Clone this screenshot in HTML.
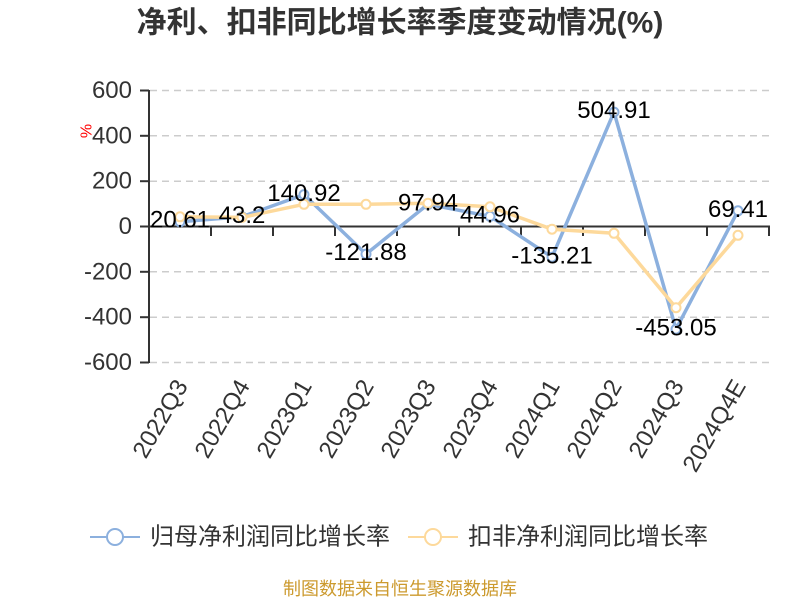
<!DOCTYPE html>
<html>
<head>
<meta charset="utf-8">
<style>
  html, body { margin: 0; padding: 0; background: #ffffff; }
  body { width: 800px; height: 600px; overflow: hidden; }
  svg { display: block; font-family: "Liberation Sans", "Noto Sans CJK SC", sans-serif; }
</style>
</head>
<body>
<svg width="800" height="600" viewBox="0 0 800 600" xmlns="http://www.w3.org/2000/svg">
  <rect width="800" height="600" fill="#ffffff"/>

  <!-- Title -->
  <text x="400" y="23" text-anchor="middle" dominant-baseline="central" font-size="30" font-weight="bold" fill="#333333">净利、扣非同比增长率季度变动情况(%)</text>

  <!-- Grid lines (dashed) -->
  <g stroke="#cccccc" stroke-width="1.5" stroke-dasharray="7,5">
    <line x1="150" y1="90.5" x2="769" y2="90.5"/>
    <line x1="150" y1="135.8" x2="769" y2="135.8"/>
    <line x1="150" y1="181.2" x2="769" y2="181.2"/>
    <line x1="150" y1="271.8" x2="769" y2="271.8"/>
    <line x1="150" y1="317.2" x2="769" y2="317.2"/>
    <line x1="150" y1="362.5" x2="769" y2="362.5"/>
  </g>

  <!-- Y axis -->
  <g stroke="#333333" stroke-width="2">
    <line x1="149" y1="90" x2="149" y2="363"/>
    <line x1="140" y1="90.5" x2="149" y2="90.5"/>
    <line x1="140" y1="135.8" x2="149" y2="135.8"/>
    <line x1="140" y1="181.2" x2="149" y2="181.2"/>
    <line x1="140" y1="226.5" x2="149" y2="226.5"/>
    <line x1="140" y1="271.8" x2="149" y2="271.8"/>
    <line x1="140" y1="317.2" x2="149" y2="317.2"/>
    <line x1="140" y1="362.5" x2="149" y2="362.5"/>
  </g>
  <g font-size="24" fill="#333333" text-anchor="end" dominant-baseline="central">
    <text x="132" y="90.5">600</text>
    <text x="132" y="135.8">400</text>
    <text x="132" y="181.2">200</text>
    <text x="132" y="226.5">0</text>
    <text x="132" y="271.8">-200</text>
    <text x="132" y="317.2">-400</text>
    <text x="132" y="362.5">-600</text>
  </g>
  <text x="87" y="131" font-size="16" fill="#ff0000" text-anchor="middle" dominant-baseline="central" transform="rotate(-90 87 131)">%</text>

  <!-- X axis -->
  <g stroke="#333333" stroke-width="2">
    <line x1="149" y1="226.5" x2="770" y2="226.5"/>
    <line x1="149" y1="226.5" x2="149" y2="236"/>
    <line x1="211" y1="226.5" x2="211" y2="236"/>
    <line x1="273" y1="226.5" x2="273" y2="236"/>
    <line x1="335" y1="226.5" x2="335" y2="236"/>
    <line x1="397" y1="226.5" x2="397" y2="236"/>
    <line x1="459" y1="226.5" x2="459" y2="236"/>
    <line x1="521" y1="226.5" x2="521" y2="236"/>
    <line x1="583" y1="226.5" x2="583" y2="236"/>
    <line x1="645" y1="226.5" x2="645" y2="236"/>
    <line x1="707" y1="226.5" x2="707" y2="236"/>
    <line x1="769" y1="226.5" x2="769" y2="236"/>
  </g>

  <!-- X labels -->
  <g font-size="24" fill="#333333" text-anchor="end" dominant-baseline="central">
    <text x="182" y="382" transform="rotate(-60 182 382)">2022Q3</text>
    <text x="244" y="382" transform="rotate(-60 244 382)">2022Q4</text>
    <text x="306" y="382" transform="rotate(-60 306 382)">2023Q1</text>
    <text x="368" y="382" transform="rotate(-60 368 382)">2023Q2</text>
    <text x="430" y="382" transform="rotate(-60 430 382)">2023Q3</text>
    <text x="492" y="382" transform="rotate(-60 492 382)">2023Q4</text>
    <text x="554" y="382" transform="rotate(-60 554 382)">2024Q1</text>
    <text x="616" y="382" transform="rotate(-60 616 382)">2024Q2</text>
    <text x="678" y="382" transform="rotate(-60 678 382)">2024Q3</text>
    <text x="740" y="382" transform="rotate(-60 740 382)">2024Q4E</text>
  </g>

  <!-- Blue series -->
  <polyline fill="none" stroke="#8cb0de" stroke-width="3.5" stroke-linejoin="round"
    points="180,221.8 242,216.7 304,194.6 366,254.1 428,204.3 490,216.3 552,257.2 614,112.1 676,329.2 738,210.8"/>
  <g fill="#ffffff" stroke="#8cb0de" stroke-width="2">
    <circle cx="180" cy="221.8" r="4.5"/>
    <circle cx="242" cy="216.7" r="4.5"/>
    <circle cx="304" cy="194.6" r="4.5"/>
    <circle cx="366" cy="254.1" r="4.5"/>
    <circle cx="428" cy="204.3" r="4.5"/>
    <circle cx="490" cy="216.3" r="4.5"/>
    <circle cx="552" cy="257.2" r="4.5"/>
    <circle cx="614" cy="112.1" r="4.5"/>
    <circle cx="676" cy="329.2" r="4.5"/>
    <circle cx="738" cy="210.8" r="4.5"/>
  </g>

  <!-- Yellow series -->
  <polyline fill="none" stroke="#fdd99b" stroke-width="3.5" stroke-linejoin="round"
    points="180,216.8 242,217.4 304,204.3 366,204.3 428,203.2 490,206.8 552,229.2 614,233.3 676,307.7 738,235.3"/>
  <g fill="#ffffff" stroke="#fdd99b" stroke-width="2">
    <circle cx="180" cy="216.8" r="4.5"/>
    <circle cx="242" cy="217.4" r="4.5"/>
    <circle cx="304" cy="204.3" r="4.5"/>
    <circle cx="366" cy="204.3" r="4.5"/>
    <circle cx="428" cy="203.2" r="4.5"/>
    <circle cx="490" cy="206.8" r="4.5"/>
    <circle cx="552" cy="229.2" r="4.5"/>
    <circle cx="614" cy="233.3" r="4.5"/>
    <circle cx="676" cy="307.7" r="4.5"/>
    <circle cx="738" cy="235.3" r="4.5"/>
  </g>

  <!-- Value labels -->
  <g font-size="24" fill="#000000" text-anchor="middle">
    <text x="180" y="227.5">20.61</text>
    <text x="242" y="223">43.2</text>
    <text x="304" y="201">140.92</text>
    <text x="366" y="260">-121.88</text>
    <text x="428" y="210.5">97.94</text>
    <text x="490" y="222.5">44.96</text>
    <text x="552" y="263.5">-135.21</text>
    <text x="614" y="118">504.91</text>
    <text x="676" y="335.5">-453.05</text>
    <text x="738" y="217">69.41</text>
  </g>

  <!-- Legend -->
  <line x1="90" y1="537" x2="140" y2="537" stroke="#8cb0de" stroke-width="2"/>
  <circle cx="115" cy="537" r="8" fill="#ffffff" stroke="#8cb0de" stroke-width="2"/>
  <text x="150" y="537" font-size="24" fill="#333333" dominant-baseline="central">归母净利润同比增长率</text>

  <line x1="408" y1="537" x2="458" y2="537" stroke="#fdd99b" stroke-width="2"/>
  <circle cx="433" cy="537" r="8" fill="#ffffff" stroke="#fdd99b" stroke-width="2"/>
  <text x="468" y="537" font-size="24" fill="#333333" dominant-baseline="central">扣非净利润同比增长率</text>

  <!-- Source -->
  <text x="400" y="589" font-size="18" fill="#cc9a2e" text-anchor="middle" dominant-baseline="central">制图数据来自恒生聚源数据库</text>
</svg>
</body>
</html>
